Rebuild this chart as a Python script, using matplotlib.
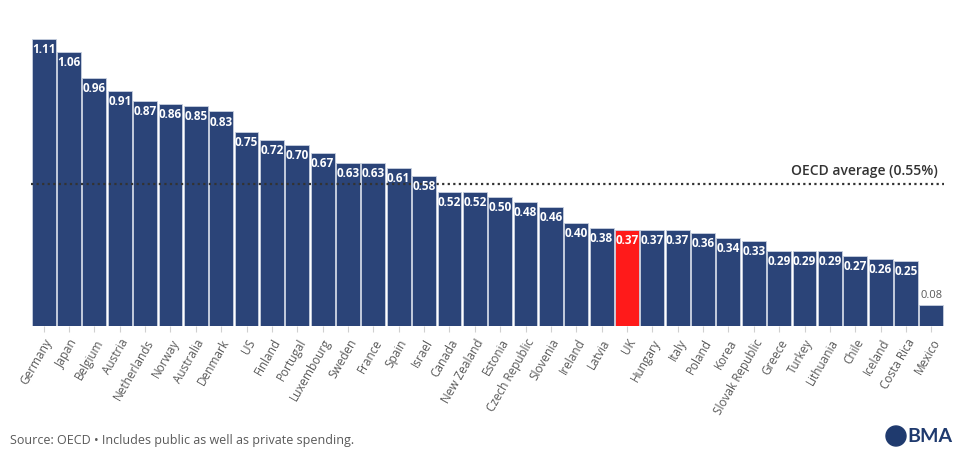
import matplotlib.pyplot as plt
from matplotlib.patches import Circle

countries = ['Germany', 'Japan', 'Belgium', 'Austria', 'Netherlands', 'Norway',
             'Australia', 'Denmark', 'US', 'Finland', 'Portugal', 'Luxembourg',
             'Sweden', 'France', 'Spain', 'Israel', 'Canada', 'New Zealand',
             'Estonia', 'Czech Republic', 'Slovenia', 'Ireland', 'Latvia', 'UK',
             'Hungary', 'Italy', 'Poland', 'Korea', 'Slovak Republic', 'Greece',
             'Turkey', 'Lithuania', 'Chile', 'Iceland', 'Costa Rica', 'Mexico']
values = [1.11, 1.06, 0.96, 0.91, 0.87, 0.86, 0.85, 0.83, 0.75, 0.72, 0.70, 0.67,
          0.63, 0.63, 0.61, 0.58, 0.52, 0.52, 0.50, 0.48, 0.46, 0.40, 0.38, 0.37,
          0.37, 0.37, 0.36, 0.34, 0.33, 0.29, 0.29, 0.29, 0.27, 0.26, 0.25, 0.08]
oecd_avg = 0.55
highlight = 'UK'

navy = '#2B4478'
red = '#FF1A1A'
grey = '#595959'
font = 'Open Sans'

fig = plt.figure(figsize=(9.54, 4.52), dpi=100)
ax = fig.add_axes([0.0325, 0.2765, 0.957, 0.6407])

x = list(range(len(countries)))
colors = [red if c == highlight else navy for c in countries]
ax.bar(x, values, width=0.94, color=colors, edgecolor='#c8d0e0', linewidth=0.6)

# value labels: inside the bar top, or above it when the bar is too short
for xi, v in zip(x, values):
    if v < 0.15:
        ax.text(xi, v + 0.02, f'{v:.2f}', ha='center', va='bottom',
                fontsize=8, color=grey, family=font)
    else:
        ax.text(xi, v - 0.012, f'{v:.2f}', ha='center', va='top',
                fontsize=8.5, color='white', fontweight='bold', family=font)

# OECD average line
ax.axhline(oecd_avg, color='#333333', linestyle=(0, (1, 1.5)), linewidth=1.6)
ax.text(len(countries) - 0.75, oecd_avg + 0.025, f'OECD average ({oecd_avg:.2f}%)',
        ha='right', va='bottom', fontsize=10, color='#333333',
        fontweight='semibold', family=font)

ax.set_xlim(-0.5, len(countries) - 0.5)
ax.set_ylim(0, 1.12)
ax.set_xticks(x)
ax.set_xticklabels(countries, rotation=60, ha='right', rotation_mode='anchor',
                   fontsize=8.5, color=grey, family=font)
ax.tick_params(axis='x', length=4, color='#d0d0d0', pad=3)
ax.set_yticks([])
for s in ax.spines.values():
    s.set_visible(False)

fig.text(10 / 954, 1 - 441 / 452, 'Source: OECD \u2022 Includes public as well as private spending.',
         fontsize=9, color=grey, family=font, va='center')

# BMA logo
fig.add_artist(Circle((8.96, (452 - 437) / 100), 0.1, transform=fig.dpi_scale_trans,
                      color='#1F3A6E'))
fig.text(907 / 954, 1 - 437 / 452, 'BMA', fontsize=14, fontweight='bold',
         color='#1F3A6E', family='Lato', va='center')

fig.savefig('out.png', dpi=100)
